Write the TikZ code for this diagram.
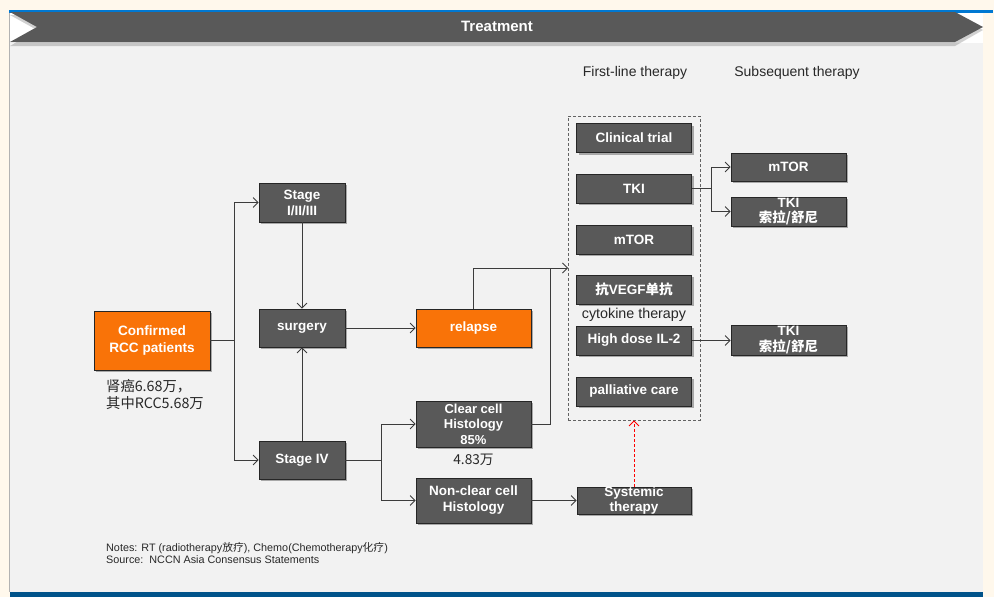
\documentclass[tikz,border=0pt]{standalone}
\usepackage{fontspec}
\setmainfont{Liberation Sans}
\newfontfamily\cjk{Noto Sans CJK SC}
\usetikzlibrary{arrows.meta,shadows}
\definecolor{bgc}{RGB}{255,248,236}
\definecolor{panel}{RGB}{242,242,242}
\definecolor{boxg}{RGB}{89,89,89}
\definecolor{orng}{RGB}{249,115,8}
\definecolor{blueline}{RGB}{0,120,210}
\definecolor{bluebar}{RGB}{0,83,138}
\definecolor{linec}{RGB}{60,60,60}
\definecolor{txtc}{RGB}{40,40,40}
\tikzset{
  box/.style={draw=black!85, line width=0.8pt, fill=boxg, text=white,
    font=\bfseries\fontsize{13.5}{15}\selectfont, align=center, inner sep=0pt,
    minimum width=115pt, minimum height=29pt,
    drop shadow={shadow xshift=2pt, shadow yshift=-2pt, opacity=0.3, fill=black}},
  obox/.style={box, fill=orng, font=\bfseries\fontsize{13.6}{17}\selectfont},
  conn/.style={draw=linec, line width=0.8pt},
  arr/.style={conn, -{Straight Barb[length=5pt,width=10pt]}},
  lbl/.style={text=txtc, inner sep=0pt},
}
\begin{document}
\begin{tikzpicture}[x=1pt,y=-1pt]
\useasboundingbox (0,0) rectangle (994,597);
% backgrounds
\fill[bgc] (0,0) rectangle (994,597);
\fill[panel] (10,12) rectangle (983,592);
\draw[gray!60, line width=1pt] (9.5,12) -- (9.5,592);
\fill[white] (10,12) rectangle (983,43);
\fill[blueline] (9,10) rectangle (993,12.5);
\fill[bluebar] (10,591.5) rectangle (983,597);
% banner
\fill[black, opacity=0.18] (10,15) -- (955,15) -- (983,30) -- (955,46) -- (10,46) -- (37,30) -- cycle;
\fill[boxg] (10,12) -- (955,12) -- (983,27) -- (955,42) -- (10,42) -- (37,27) -- cycle;
\node[text=white, font=\bfseries\fontsize{15}{17}\selectfont] (title) at (497,26) {Treatment};
% headers
\node[lbl, font=\fontsize{14}{16}\selectfont] (h1) at (635,73) {First-line therapy};
\node[lbl, font=\fontsize{14}{16}\selectfont] (h2) at (797,73) {Subsequent therapy};
% dashed first-line frame
\node[draw=linec!80, dash pattern=on 3pt off 2pt, line width=0.8pt, minimum width=132pt, minimum height=304pt, inner sep=0pt] (fl) at (634,268) {};
% nodes
\node[obox, minimum width=116pt, minimum height=59pt] (rcc) at (152,340.5) {Confirmed\\RCC patients};
\node[lbl, font=\cjk\fontsize{14.3}{17}\selectfont, align=left, anchor=north west] (rccn) at (106,379) {肾癌6.68万，\\其中RCC5.68万};
\node[box, minimum width=86pt, minimum height=39pt, font=\bfseries\fontsize{13.5}{16}\selectfont] (st1) at (302,202.5) {Stage\\I/II/III};
\node[box, minimum width=86pt, minimum height=38pt] (surg) at (302,328) {surgery};
\node[box, minimum width=86pt, minimum height=38pt] (st4) at (302,460) {Stage IV};
\node[obox, minimum width=115pt, minimum height=38pt, font=\bfseries\fontsize{13.5}{15}\selectfont] (rel) at (473.5,328) {relapse};
\node[box, minimum width=115pt, minimum height=46pt, font=\bfseries\fontsize{13}{15.5}\selectfont] (cc) at (473.5,424) {Clear cell\\Histology\\85\%};
\node[lbl, font=\cjk\fontsize{13.7}{15}\selectfont] (ccn) at (473.5,459.5) {4.83万};
\node[box, minimum width=115pt, minimum height=45pt, font=\bfseries\fontsize{13.5}{16}\selectfont] (ncc) at (473.5,500.5) {Non-clear cell\\Histology};
\node[box, minimum width=114pt, minimum height=27pt, font=\bfseries\fontsize{13.5}{14.5}\selectfont] (sys) at (634,500.5) {Systemic\\therapy};
% first-line
\node[box] (ct) at (634,138) {Clinical trial};
\node[box] (tki) at (634,188.5) {TKI};
\node[box] (mtor) at (634,239.5) {mTOR};
\node[box] (vegf) at (634,289.5) {{\cjk\bfseries 抗}VEGF{\cjk\bfseries 单抗}};
\node[lbl, font=\fontsize{14.3}{16}\selectfont] (cyt) at (634,315) {cytokine therapy};
\node[box] (il2) at (634,340.5) {High dose IL-2};
\node[box] (pal) at (634,391.5) {palliative care};
% subsequent
\node[box, minimum width=115pt, minimum height=28pt] (smtor) at (788.5,167) {mTOR};
\node[box, minimum width=115pt, minimum height=29pt, font=\bfseries\fontsize{13.5}{15.5}\selectfont] (stki1) at (788.5,211.5) {TKI\\{\cjk\bfseries 索拉/舒尼}};
\node[box, minimum width=115pt, minimum height=30pt, font=\bfseries\fontsize{13.5}{15.5}\selectfont] (stki2) at (788.5,340) {TKI\\{\cjk\bfseries 索拉/舒尼}};
% notes
\node[lbl, font=\fontsize{10.8}{12}\selectfont, align=left, anchor=north west] (notes) at (106,542) {Notes: RT (radiotherapy{\cjk 放疗}), Chemo(Chemotherapy{\cjk 化疗})\\Source:\ \ NCCN Asia Consensus Statements};
% connectors
\coordinate (j1) at (234,340.5);
\draw[conn] (rcc.east) -- (j1);
\draw[arr] (j1) |- (st1.west);
\draw[arr] (j1) |- (st4.west);
\draw[arr] (st1) -- (surg);
\draw[arr] (st4) -- (surg);
\draw[arr] (surg) -- (rel);
\coordinate (fin) at (568,268);
\coordinate (jc) at (550,268);
\draw[arr] (rel.north) |- (fin);
\draw[conn] (cc.east) -| (jc);
\coordinate (j4) at (381,460);
\draw[conn] (st4.east) -- (j4);
\draw[arr] (j4) |- (cc.west);
\draw[arr] (j4) |- (ncc.west);
\draw[arr] (ncc) -- (sys);
\draw[arr, draw=red, dash pattern=on 3pt off 2pt] (sys.north) -- (sys.north |- fl.south);
\coordinate (jt) at (711,188.5);
\draw[conn] (tki.east) -- (jt);
\draw[arr] (jt) |- (smtor.west);
\draw[arr] (jt) |- (stki1.west);
\draw[arr] (il2.east) -- (il2.east -| stki2.west);
\end{tikzpicture}
\end{document}
